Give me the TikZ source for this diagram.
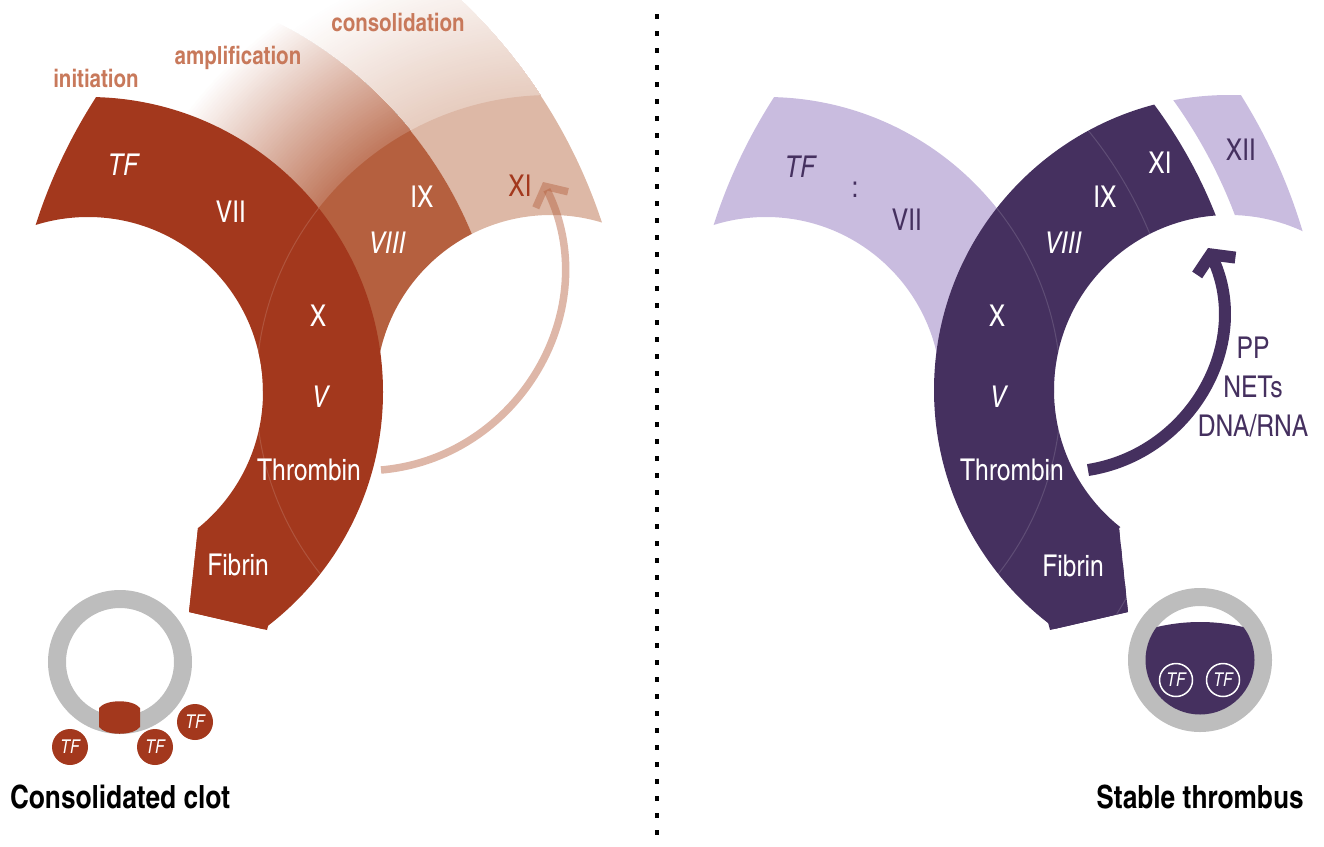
\documentclass[tikz,border=0pt]{standalone}
\usepackage{fontspec}
\setmainfont{texgyreheroscn}[Extension=.otf,UprightFont=*-regular,BoldFont=*-bold,ItalicFont=*-italic,BoldItalicFont=*-bolditalic]
\usetikzlibrary{arrows.meta}
\definecolor{clotred}{HTML}{A3381D}
\definecolor{ampbrown}{HTML}{B5603F}
\definecolor{constan}{HTML}{DDB8A6}
\definecolor{phasetxt}{HTML}{C8795B}
\definecolor{thrombpurple}{HTML}{45305F}
\definecolor{lilac}{HTML}{C9BCDF}
\definecolor{vesselgrey}{HTML}{BDBDBD}

\begin{document}
\begin{tikzpicture}[x=1pt,y=-1pt,
  num/.style={text=white,text depth=0pt,font=\fontsize{30}{30}\selectfont},
  numi/.style={num,font=\fontsize{30}{30}\selectfont\itshape},
  phase/.style={text=phasetxt,text depth=0pt,font=\fontsize{25}{25}\selectfont\bfseries},
  title/.style={text depth=0pt,font=\fontsize{32}{32}\selectfont\bfseries},
  tfdot/.style={circle,fill=clotred,text=white,inner sep=0pt,minimum size=36pt,font=\fontsize{19}{19}\selectfont\itshape},
  tfring/.style={circle,draw=white,line width=1.5pt,text=white,inner sep=0pt,minimum size=33pt,font=\fontsize{19}{19}\selectfont\itshape},
  faint/.style={white,opacity=.14,line width=1pt}]
  \useasboundingbox (0,0) rectangle (1324,846);
  % ring centres
  \coordinate (C1) at (88,392);   \coordinate (C2) at (551,390);
  \coordinate (C1R) at (766,392); \coordinate (C2R) at (1229,390);

  % ---- consolidated clot: fading phases
  \begin{scope}
    \clip (0,0) rectangle (660,392);
    \clip (C1) circle (541) (C1) ++(415,0) arc[start angle=0,end angle=-360,radius=415];
    \foreach \k in {60,59,...,1}{
      \pgfmathsetmacro\pct{72-72*\k/60}
      \fill[constan!\pct!white,even odd rule] (C2) circle ({295+2.5*\k}) (C2) circle (295);
    }
  \end{scope}
  \begin{scope}
    \clip (0,0) rectangle (660,392);
    \clip (C1) circle (415) (C1) ++(295,0) arc[start angle=0,end angle=-360,radius=295];
    \foreach \k in {60,59,...,1}{
      \pgfmathsetmacro\pct{85-85*\k/60}
      \fill[ampbrown!\pct!white,even odd rule] (C2) circle ({295+2.75*\k}) (C2) circle (295);
    }
  \end{scope}
  % consolidation and amplification bands
  \begin{scope}
    \clip (0,0) rectangle (660,392);
    \clip (C1) circle (541) (C1) ++(415,0) arc[start angle=0,end angle=-360,radius=415];
    \fill[constan,even odd rule] (C2) circle (295) (C2) circle (175);
  \end{scope}
  \begin{scope}
    \clip (0,0) rectangle (660,392);
    \clip (C1) circle (415) (C1) ++(175,0) arc[start angle=0,end angle=-360,radius=175];
    \fill[ampbrown,even odd rule] (C2) circle (295) (C2) circle (175);
  \end{scope}
  % initiation band
  \begin{scope}
    \clip (C2) circle (541);
    \clip (198,528) -- (189,612) -- (267,630) -- (700,750) -- (700,-200) -- (-200,-200) -- (-200,300) -- cycle;
    \fill[clotred,even odd rule] (C1) circle (295) (C1) circle (175);
    \fill[clotred] (198,528) -- (189,612) -- (267,630) -- (300,500) -- cycle;
    \clip (C1) circle (295) (C1) ++(175,0) arc[start angle=0,end angle=-360,radius=175];
    \draw[faint] (C2) circle (295);
  \end{scope}

  \node[phase] (initL) at (96,78) {initiation};
  \node[phase] (amplL) at (238,55) {amplification};
  \node[phase] (consL) at (398,22) {consolidation};
  \node[numi] (tfL) at (123,165) {TF};
  \node[num] (viiL) at (231,212) {VII};
  \node[num] (ixL) at (422,197) {IX};
  \node[numi] (viiiL) at (387,243) {VIII};
  \node[num,text=clotred] (xiL) at (520,186) {XI};
  \node[num] (xL) at (318,316) {X};
  \node[numi] (vL) at (320,397) {V};
  \node[num] (thrL) at (309,470) {Thrombin};
  \node[num] (fibL) at (238,565) {Fibrin};

  \coordinate (arrL0) at (381,470);
  \coordinate (arrL1) at (543,182);
  \draw[ampbrown,draw opacity=.45,line width=7.5pt,-{Straight Barb[length=15pt,width=36pt]}]
    (arrL0) .. controls (519,458) and (606,308) .. (arrL1);

  % vessel with clot
  \coordinate (ringL) at (120,662);
  \draw[vesselgrey,line width=18pt] (ringL) circle (63);
  \fill[clotred] (99,708) .. controls (106,699) and (133,699) .. (140,708) -- (140,727)
    .. controls (133,736) and (106,736) .. (99,727) -- cycle;
  \node[tfdot] (tf1L) at (70,747) {TF};
  \node[tfdot] (tf2L) at (155,747) {TF};
  \node[tfdot] (tf3L) at (195,722) {TF};
  \node[title] (clotL) at (120,797) {Consolidated clot};

  % divider
  \draw[line width=4.5pt,dash pattern=on 4.5pt off 12.5pt] (657,14) -- (657,846);

  % ---- stable thrombus
  \begin{scope}
    \clip (660,0) rectangle (1324,392);
    \clip (C2R) circle (541) (C2R) ++(175,0) arc[start angle=0,end angle=-360,radius=175];
    \fill[lilac,even odd rule] (C1R) circle (295) (C1R) circle (175);
  \end{scope}
  \begin{scope}
    \clip (C1R) circle (483);
    \clip (1119,528) -- (1128,612) -- (1050,630) -- (617,750) -- (617,-200) -- (1517,-200) -- (1517,300) -- cycle;
    \fill[thrombpurple,even odd rule] (C2R) circle (295) (C2R) circle (175);
    \fill[thrombpurple] (1119,528) -- (1128,612) -- (1050,630) -- (1017,500) -- cycle;
    \clip (C2R) circle (295) (C2R) ++(175,0) arc[start angle=0,end angle=-360,radius=175];
    \draw[faint] (C1R) circle (295) (C1R) circle (415);
  \end{scope}
  \begin{scope}
    \clip (660,0) rectangle (1324,392);
    \clip (C1R) circle (560) (C1R) ++(501,0) arc[start angle=0,end angle=-360,radius=501];
    \fill[lilac,even odd rule] (C2R) circle (295) (C2R) circle (175);
  \end{scope}

  \node[numi,text=thrombpurple] (tfR) at (800,167) {TF};
  \node[num,text=thrombpurple] (colR) at (855,190) {:};
  \node[num,text=thrombpurple] (viiR) at (907,220) {VII};
  \node[num] (xiR) at (1160,163) {XI};
  \node[num,text=thrombpurple] (xiiR) at (1241,150) {XII};
  \node[num] (ixR) at (1105,197) {IX};
  \node[numi] (viiiR) at (1063,243) {VIII};
  \node[num] (xR) at (997,316) {X};
  \node[numi] (vR) at (998,397) {V};
  \node[num] (thrR) at (1012,470) {Thrombin};
  \node[num] (fibR) at (1073,566) {Fibrin};
  \node[num,text=thrombpurple,align=center,font=\fontsize{30}{39}\selectfont] (ppR) at (1253,387) {PP\\NETs\\DNA/RNA};

  \coordinate (arrR0) at (1088,470);
  \coordinate (arrR1) at (1208,248);
  \draw[thrombpurple,line width=12pt,-{Straight Barb[length=13pt,width=42pt]}]
    (arrR0) .. controls (1190,454) and (1252,345) .. (arrR1);

  % vessel with thrombus
  \coordinate (ringR) at (1200,660);
  \draw[vesselgrey,line width=18pt] (ringR) circle (63);
  \begin{scope}
    \clip (ringR) circle (54.5);
    \fill[thrombpurple] (1200,809) circle (187);
  \end{scope}
  \node[tfring] (tf1R) at (1176,680) {TF};
  \node[tfring] (tf2R) at (1223,680) {TF};
  \node[title] (stabR) at (1200,797) {Stable thrombus};
\end{tikzpicture}
\end{document}
